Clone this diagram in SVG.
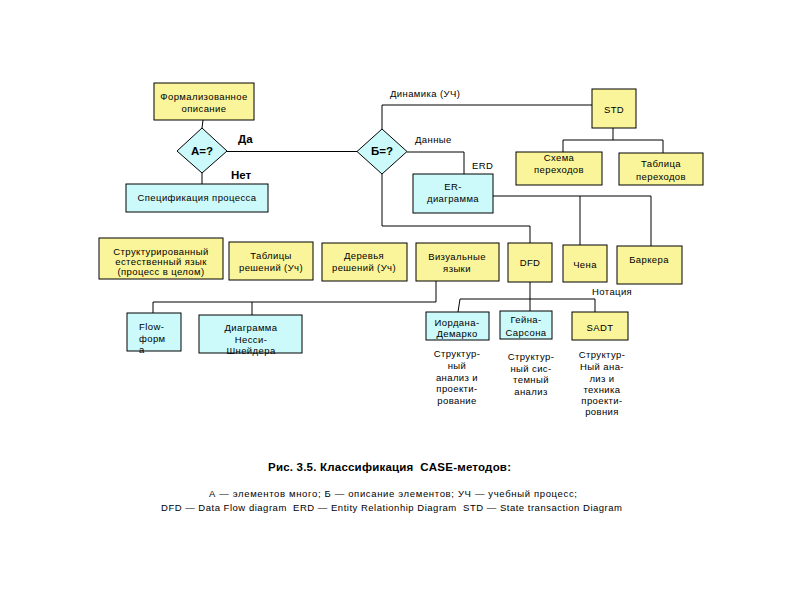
<svg xmlns="http://www.w3.org/2000/svg" width="794" height="595" viewBox="0 0 794 595">
<style>
text{font-family:"Liberation Sans",Arial,sans-serif;font-size:9.5px;fill:#000;letter-spacing:0.4px}
.c{text-anchor:middle}
.b{font-weight:bold;font-size:11.5px;letter-spacing:0}
.y{fill:#FAF59B;stroke:#000;stroke-width:1}
.k{fill:#CCFAFA;stroke:#000;stroke-width:1}
#caption text{letter-spacing:0}
#connectors line,#connectors polyline{stroke:#000;stroke-width:1;fill:none}
</style>
<rect width="794" height="595" fill="#fff"/>
<g id="connectors">
<line x1="203" y1="120" x2="202" y2="128"/>
<line x1="227" y1="151.5" x2="357" y2="151.5"/>
<line x1="202" y1="173" x2="202" y2="184"/>
<polyline points="382,129 382,105 592,105"/>
<line x1="613" y1="128" x2="613" y2="140"/>
<polyline points="563,152 563,140 663,140 663,153"/>
<polyline points="407,152 464,152 464,174"/>
<line x1="493" y1="196" x2="651" y2="196"/>
<line x1="580" y1="196" x2="580" y2="245"/>
<line x1="651" y1="196" x2="651" y2="246"/>
<polyline points="382,174 382,226 530,226 530,243"/>
<polyline points="436,281 436,302 153,302 153,313"/>
<line x1="252" y1="302" x2="252" y2="315"/>
<line x1="530" y1="282" x2="530" y2="311"/>
<polyline points="458,312 460,299 595,299 595,312"/>
</g>
<g id="n-formal"><rect class="y" x="154" y="83" width="100" height="37"/><text class="c" x="204" y="100">Формализованное</text><text class="c" x="204" y="112">описание</text></g>
<g id="n-a"><polygon class="k" points="202,128 227,151 202,173 177,151"/><text class="c b" x="202" y="155">А=?</text></g>
<g id="l-da"><text class="b" x="238" y="143">Да</text></g>
<g id="l-net"><text class="b" x="231" y="179">Нет</text></g>
<g id="n-spec"><rect class="k" x="126" y="184" width="142" height="28"/><text class="c" x="197" y="201">Спецификация процесса</text></g>
<g id="n-b"><polygon class="k" points="382,129 407,151.5 382,174 357,151.5"/><text class="c b" x="382" y="155">Б=?</text></g>
<g id="l-dyn"><text x="390" y="97">Динамика (УЧ)</text></g>
<g id="l-data"><text x="415" y="143">Данные</text></g>
<g id="l-erd"><text x="472" y="169">ERD</text></g>
<g id="n-std"><rect class="y" x="592" y="89" width="44" height="39"/><text class="c" x="614" y="113">STD</text></g>
<g id="n-schema"><rect class="y" x="516" y="152" width="86" height="33"/><text class="c" x="559" y="161">Схема</text><text class="c" x="559" y="173">переходов</text></g>
<g id="n-table"><rect class="y" x="619" y="153" width="84" height="32"/><text class="c" x="661" y="167">Таблица</text><text class="c" x="661" y="180">переходов</text></g>
<g id="n-er"><rect class="k" x="413" y="174" width="80" height="39"/><text class="c" x="453" y="190">ER-</text><text class="c" x="453" y="202">диаграмма</text></g>
<g id="n-struct"><rect class="y" x="99" y="238" width="124" height="41"/><text class="c" x="161" y="255">Структурированный</text><text class="c" x="161" y="265">естественный язык</text><text class="c" x="161" y="275">(процесс в целом)</text></g>
<g id="n-tabl"><rect class="y" x="229" y="242" width="84" height="38"/><text class="c" x="271" y="259">Таблицы</text><text class="c" x="271" y="271">решений (Уч)</text></g>
<g id="n-trees"><rect class="y" x="322" y="243" width="85" height="38"/><text class="c" x="364" y="259">Деревья</text><text class="c" x="364" y="271">решений (Уч)</text></g>
<g id="n-vis"><rect class="y" x="416" y="243" width="83" height="38"/><text class="c" x="457" y="260">Визуальные</text><text class="c" x="457" y="272">языки</text></g>
<g id="n-dfd"><rect class="y" x="508" y="243" width="44" height="39"/><text class="c" x="530" y="266">DFD</text></g>
<g id="n-chen"><rect class="y" x="563" y="245" width="44" height="37"/><text class="c" x="585" y="268">Чена</text></g>
<g id="n-barker"><rect class="y" x="617" y="246" width="65" height="38"/><text class="c" x="649" y="263">Баркера</text></g>
<g id="l-not"><text x="592" y="295">Нотация</text></g>
<g id="n-flow"><rect class="k" x="127" y="313" width="54" height="38"/><text x="139" y="330">Flow-</text><text x="139" y="342">форм</text><text x="139" y="353">а</text></g>
<g id="n-nassi"><rect class="k" x="199" y="315" width="103" height="38"/><text class="c" x="251" y="331">Диаграмма</text><text class="c" x="251" y="343">Несси-</text><text class="c" x="251" y="354">Шнейдера</text></g>
<g id="n-yourdon"><rect class="k" x="426" y="312" width="63" height="28"/><text class="c" x="457" y="326">Иордана-</text><text class="c" x="457" y="337">Демарко</text></g>
<g id="n-gane"><rect class="k" x="500" y="311" width="52" height="28"/><text class="c" x="526" y="323">Гейна-</text><text class="c" x="526" y="336">Сарсона</text></g>
<g id="n-sadt"><rect class="y" x="572" y="312" width="56" height="28"/><text class="c" x="600" y="331">SADT</text></g>
<g id="t1"><text class="c" x="457" y="357">Структур-</text><text class="c" x="457" y="369">ный</text><text class="c" x="457" y="381">анализ и</text><text class="c" x="457" y="392">проекти-</text><text class="c" x="457" y="404">рование</text></g>
<g id="t2"><text class="c" x="531" y="360">Структур-</text><text class="c" x="531" y="372">ный сис-</text><text class="c" x="531" y="383">темный</text><text class="c" x="531" y="395">анализ</text></g>
<g id="t3"><text class="c" x="602" y="358">Структур-</text><text class="c" x="602" y="370">Ный ана-</text><text class="c" x="602" y="382">лиз и</text><text class="c" x="602" y="393">техника</text><text class="c" x="602" y="404">проекти-</text><text class="c" x="602" y="415">ровния</text></g>
<g id="caption">
<text x="268" y="471" xml:space="preserve" textLength="243" lengthAdjust="spacing" style="font-weight:bold;font-size:11.5px">Рис. 3.5. Классификация  CASE-методов:</text>
<text x="209" y="497" textLength="368" lengthAdjust="spacing" style="font-size:9.5px">А — элементов много; Б — описание элементов; УЧ — учебный процесс;</text>
<text x="161" y="511" xml:space="preserve" textLength="461" lengthAdjust="spacing" style="font-size:9.5px">DFD — Data Flow diagram  ERD — Entity Relationhip Diagram  STD — State transaction Diagram</text>
</g>
</svg>
